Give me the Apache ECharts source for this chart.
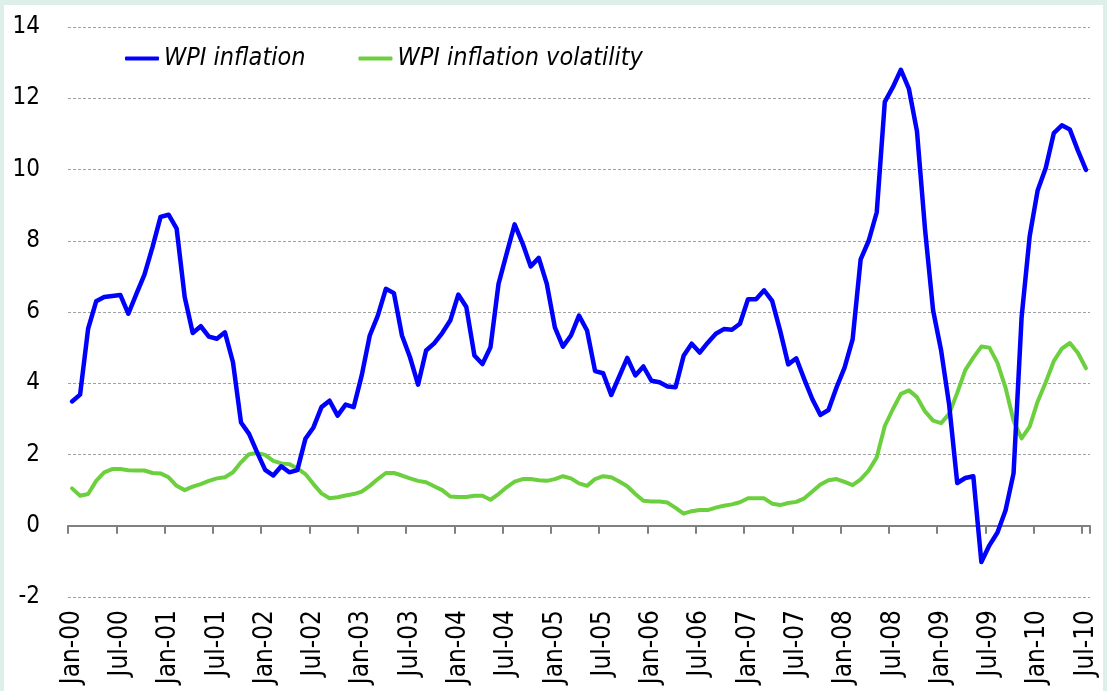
<!DOCTYPE html>
<html>
<head>
<meta charset="utf-8">
<script src="https://cdn.jsdelivr.net/npm/echarts@6/dist/echarts.min.js"></script>
<style>
  html, body { margin: 0; padding: 0; width: 1107px; height: 691px; background: #dcefe8; overflow: hidden; }
  #panel { position: absolute; left: 4px; top: 5px; right: 4px; bottom: 0; background: #ffffff; }
  #chart { position: absolute; left: 0; top: 0; width: 1107px; height: 691px; }
</style>
</head>
<body>
<div id="panel"></div>
<div id="chart"></div>
<script>
// Month labels Jan-00 .. Jul-10
const monthNames = ['Jan','Feb','Mar','Apr','May','Jun','Jul','Aug','Sep','Oct','Nov','Dec'];
const yearLabels = ['00','01','02','03','04','05','06','07','08','09','10'];
const categories = [];
yearLabels.forEach(function (yy, yi) {
  monthNames.forEach(function (m, mi) {
    if (yi === yearLabels.length - 1 && mi > 6) return;
    categories.push(m + '-' + yy);
  });
});

const seriesNames = ['WPI inflation', 'WPI inflation volatility'];

const wpiInflation = [
  3.49, 3.68, 5.53, 6.30, 6.42, 6.45, 6.48, 5.95, 6.51, 7.05,
  7.82, 8.67, 8.73, 8.34, 6.42, 5.41, 5.60, 5.31, 5.25, 5.43,
  4.59, 2.90, 2.58, 2.06, 1.57, 1.41, 1.67, 1.50, 1.56, 2.44,
  2.76, 3.33, 3.51, 3.09, 3.40, 3.33, 4.22, 5.34, 5.90, 6.65,
  6.53, 5.34, 4.73, 3.96, 4.92, 5.12, 5.41, 5.76, 6.49, 6.14,
  4.78, 4.54, 5.01, 6.79, 7.63, 8.46, 7.92, 7.28, 7.52, 6.79,
  5.57, 5.03, 5.34, 5.90, 5.48, 4.34, 4.28, 3.67, 4.19, 4.71,
  4.22, 4.47, 4.07, 4.03, 3.91, 3.89, 4.77, 5.11, 4.86, 5.14,
  5.39, 5.52, 5.50, 5.67, 6.36, 6.36, 6.61, 6.31, 5.47, 4.53,
  4.70, 4.11, 3.55, 3.11, 3.25, 3.88, 4.44, 5.23, 7.48, 8.00,
  8.80, 11.90, 12.31, 12.80, 12.26, 11.07, 8.32, 6.05, 4.92, 3.39,
  1.20, 1.34, 1.39, -1.02, -0.55, -0.19, 0.43, 1.47, 5.85, 8.12,
  9.42, 10.04, 11.02, 11.24, 11.12, 10.53, 9.99
];

const wpiVolatility = [
  1.05, 0.84, 0.89, 1.26, 1.50, 1.59, 1.59, 1.56, 1.55, 1.55,
  1.48, 1.47, 1.36, 1.12, 1.00, 1.10, 1.17, 1.26, 1.33, 1.36,
  1.50, 1.78, 2.01, 2.04, 1.99, 1.82, 1.75, 1.73, 1.61, 1.45,
  1.17, 0.91, 0.77, 0.80, 0.85, 0.89, 0.96, 1.12, 1.31, 1.48,
  1.48, 1.41, 1.33, 1.26, 1.22, 1.11, 1.00, 0.82, 0.81, 0.81,
  0.84, 0.84, 0.73, 0.89, 1.08, 1.24, 1.31, 1.31, 1.28, 1.26,
  1.31, 1.39, 1.33, 1.19, 1.12, 1.31, 1.39, 1.36, 1.24, 1.11,
  0.89, 0.70, 0.68, 0.68, 0.65, 0.50, 0.34, 0.41, 0.44, 0.44,
  0.51, 0.56, 0.60, 0.66, 0.77, 0.77, 0.77, 0.62, 0.58, 0.64,
  0.67, 0.77, 0.96, 1.16, 1.28, 1.31, 1.23, 1.14, 1.30, 1.55,
  1.92, 2.80, 3.27, 3.70, 3.80, 3.61, 3.21, 2.95, 2.88, 3.14,
  3.73, 4.37, 4.72, 5.03, 5.00, 4.57, 3.88, 2.95, 2.45, 2.78,
  3.49, 4.03, 4.62, 4.97, 5.13, 4.85, 4.42
];

const yMin = -2, yMax = 14, yStep = 2;

const FONT = '"Liberation Sans Narrow", "Arial Narrow", "DejaVu Sans Condensed", sans-serif';

const chart = echarts.init(document.getElementById('chart'), null, { renderer: 'canvas' });
chart.setOption({
  backgroundColor: 'transparent',
  animation: false,
  textStyle: { fontFamily: FONT },
  grid: { left: 68, right: 17, top: 27, bottom: 94, containLabel: false },
  legend: {
    data: seriesNames,
    left: 120,
    top: 41,
    icon: 'roundRect',
    itemWidth: 34,
    itemHeight: 4,
    itemGap: 53,
    textStyle: { fontSize: 25, fontStyle: 'italic', color: '#000', fontFamily: FONT }
  },
  xAxis: [
    {
      type: 'category',
      data: categories,
      boundaryGap: true,
      axisLine: { show: false, onZero: false },
      axisTick: { show: false },
      splitLine: { show: false },
      axisLabel: { interval: 5, rotate: 90, fontSize: 26, margin: 13, color: '#000', fontFamily: FONT }
    },
    {
      type: 'category',
      data: categories,
      boundaryGap: true,
      position: 'bottom',
      axisLine: { show: true, onZero: true, lineStyle: { color: '#808080', width: 2 } },
      axisTick: { show: true, interval: 5, length: 8, lineStyle: { color: '#808080', width: 2 } },
      axisLabel: { show: false },
      splitLine: { show: false }
    }
  ],
  yAxis: {
    type: 'value',
    min: yMin,
    max: yMax,
    interval: yStep,
    axisLine: { show: false },
    axisTick: { show: false },
    axisLabel: { fontSize: 24, margin: 28, color: '#000', fontFamily: FONT },
    splitLine: { show: true, lineStyle: { color: '#a0a0a0', width: 1, type: [3, 2] } }
  },
  series: [
    {
      name: seriesNames[0],
      type: 'line',
      data: wpiInflation,
      xAxisIndex: 0,
      symbol: 'none',
      smooth: false,
      lineStyle: { color: '#0000ff', width: 4.5, join: 'round', cap: 'round' },
      itemStyle: { color: '#0000ff' },
      z: 3
    },
    {
      name: seriesNames[1],
      type: 'line',
      data: wpiVolatility,
      xAxisIndex: 0,
      symbol: 'none',
      smooth: false,
      lineStyle: { color: '#6ccf3e', width: 4, join: 'round', cap: 'round' },
      itemStyle: { color: '#6ccf3e' },
      z: 2
    }
  ]
});
</script>
</body>
</html>
